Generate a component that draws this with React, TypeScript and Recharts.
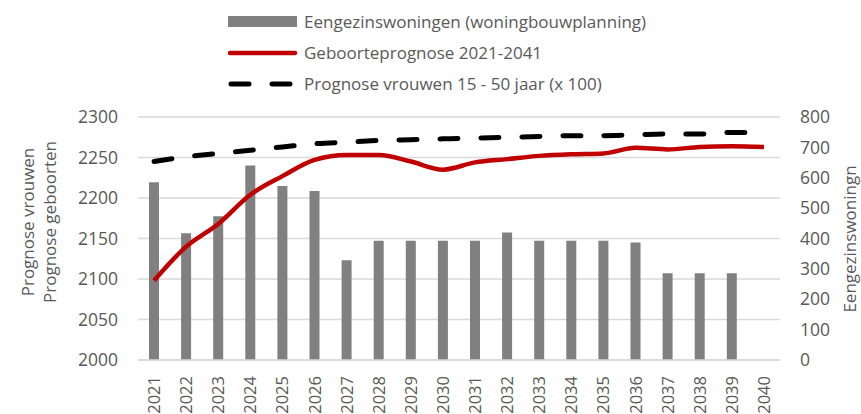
import React from "react";
import {
  ComposedChart,
  Bar,
  Line,
  XAxis,
  YAxis,
  CartesianGrid,
  Legend,
} from "recharts";

const years = [
  "2021", "2022", "2023", "2024", "2025", "2026", "2027", "2028", "2029", "2030",
  "2031", "2032", "2033", "2034", "2035", "2036", "2037", "2038", "2039", "2040",
];

// eengezinswoningen (right axis)
const woningen = [
  585, 417, 473, 640, 573, 556, 328, 393, 393, 393,
  393, 420, 393, 393, 393, 387, 286, 286, 286, 0,
];

// geboorteprognose (left axis)
const geboorten = [
  2098, 2140, 2168, 2204, 2227, 2247, 2253, 2253, 2245, 2235,
  2244, 2248, 2252, 2254, 2255, 2262, 2260, 2263, 2264, 2263,
];

// prognose vrouwen 15-50 jaar x 100 (left axis)
const vrouwen = [
  2245, 2251, 2255, 2259, 2263, 2267, 2269, 2271, 2272, 2273,
  2274, 2275, 2276, 2277, 2277, 2278, 2279, 2279, 2281, 2281,
];

const leftTicks = [2000, 2050, 2100, 2150, 2200, 2250, 2300];
const rightTicks = [0, 100, 200, 300, 400, 500, 600, 700, 800];

const data = years.map((year, i) => ({
  year,
  woningen: woningen[i],
  geboorten: geboorten[i],
  vrouwen: vrouwen[i],
}));

const FONT = "'Open Sans', sans-serif";
const TEXT = "#595959";

const XTick = (props: any) => {
  const { x, y, payload } = props;
  return (
    <g transform={`translate(${x},${y + 8})`}>
      <text
        transform="rotate(-90)"
        textAnchor="end"
        dy={6}
        fill={TEXT}
        fontSize={16.5}
        fontFamily={FONT}
      >
        {payload.value}
      </text>
    </g>
  );
};

const LegendBox = () => (
  <div style={{ fontFamily: FONT, fontSize: 17, color: TEXT }}>
    <div style={{ display: "flex", alignItems: "center", height: 31 }}>
      <svg width={76} height={14}>
        <rect x={0} y={1} width={69} height={11} fill="#808080" />
      </svg>
      <span>Eengezinswoningen (woningbouwplanning)</span>
    </div>
    <div style={{ display: "flex", alignItems: "center", height: 31 }}>
      <svg width={76} height={14}>
        <line x1={2} y1={7} x2={67} y2={7} stroke="#c00000" strokeWidth={4.5} strokeLinecap="round" />
      </svg>
      <span>Geboorteprognose 2021-2041</span>
    </div>
    <div style={{ display: "flex", alignItems: "center", height: 31 }}>
      <svg width={76} height={14}>
        <line
          x1={3}
          y1={7}
          x2={67}
          y2={7}
          stroke="#000"
          strokeWidth={5}
          strokeLinecap="round"
          strokeDasharray="18 23"
        />
      </svg>
      <span>Prognose vrouwen 15 - 50 jaar (x 100)</span>
    </div>
  </div>
);

export default function App() {
  return (
    <div style={{ position: "absolute", left: 0, top: 0, background: "#fff" }}>
      <ComposedChart
        width={861}
        height={414}
        data={data}
        margin={{ top: 117, right: 0, bottom: 0, left: 0 }}
        barCategoryGap={0}
      >
        <CartesianGrid
          yAxisId="left"
          vertical={false}
          stroke="#d9d9d9"
          strokeWidth={1.5}
        />
        <XAxis
          dataKey="year"
          height={54}
          interval={0}
          tickLine={false}
          axisLine={{ stroke: "#d9d9d9", strokeWidth: 1.5 }}
          tick={<XTick />}
        />
        <YAxis
          yAxisId="left"
          orientation="left"
          width={138}
          domain={[2000, 2300]}
          ticks={leftTicks}
          axisLine={false}
          tickLine={false}
          tickMargin={14}
          tick={{ fill: TEXT, fontSize: 17.5, fontFamily: FONT }}
          label={() => (
            <g>
              <text
                transform="translate(34,222) rotate(-90)"
                textAnchor="middle"
                fill={TEXT}
                fontSize={17}
                fontFamily={FONT}
              >
                Prognose vrouwen
              </text>
              <text
                transform="translate(56,222) rotate(-90)"
                textAnchor="middle"
                fill={TEXT}
                fontSize={17}
                fontFamily={FONT}
              >
                Prognose geboorten
              </text>
            </g>
          )}
        />
        <YAxis
          yAxisId="right"
          orientation="right"
          width={81}
          domain={[0, 800]}
          ticks={rightTicks}
          axisLine={false}
          tickLine={false}
          tickMargin={14}
          tick={{ fill: TEXT, fontSize: 17.5, fontFamily: FONT, textAnchor: "start" }}
          label={() => (
            <text
              transform="translate(856,239) rotate(-90)"
              textAnchor="middle"
              fill={TEXT}
              fontSize={17}
              fontFamily={FONT}
            >
              Eengezinswoningn
            </text>
          )}
        />
        <Legend
          layout="vertical"
          align="center"
          verticalAlign="middle"
          content={<LegendBox />}
          wrapperStyle={{ top: 6, left: 228, width: 460 }}
        />
        <Bar
          yAxisId="right"
          dataKey="woningen"
          fill="#808080"
          barSize={10}
          isAnimationActive={false}
        />
        <Line
          yAxisId="left"
          type="monotone"
          dataKey="geboorten"
          stroke="#c00000"
          strokeWidth={4.5}
          dot={false}
          isAnimationActive={false}
        />
        <Line
          yAxisId="left"
          type="monotone"
          dataKey="vrouwen"
          stroke="#000"
          strokeWidth={5}
          strokeLinecap="round"
          strokeDasharray="18 23"
          dot={false}
          isAnimationActive={false}
        />
      </ComposedChart>
    </div>
  );
}
